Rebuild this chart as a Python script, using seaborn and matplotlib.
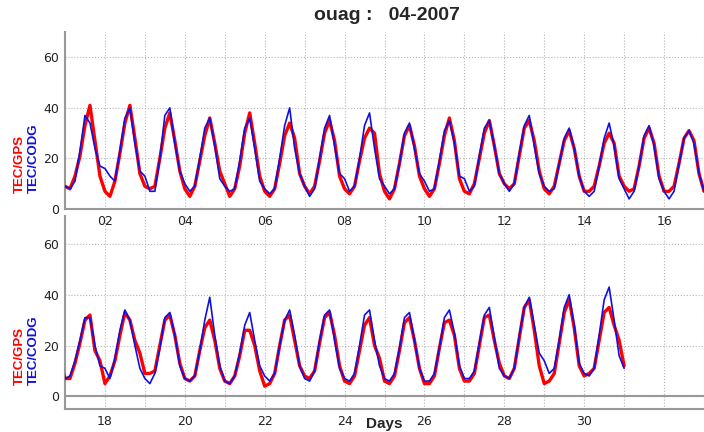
import numpy as np
import pandas as pd
import matplotlib
matplotlib.use("Agg")
import matplotlib.pyplot as plt
import seaborn as sns

# Sample hours within each day (3-hourly) and days of April 2007
hours = [0, 3, 6, 9, 12, 15, 18, 21]
days = list(range(1, 31))

# TEC from GPS receiver (red), one row of 3-hourly values per day
gps_tec = [
    9, 8, 13, 21, 33, 41, 27, 13,     # 01
    7, 5, 11, 22, 34, 41, 28, 14,     # 02
    9, 8, 9, 20, 32, 38, 27, 15,      # 03
    8, 5, 9, 19, 29, 36, 26, 15,      # 04
    10, 5, 8, 17, 30, 38, 26, 13,     # 05
    7, 5, 8, 18, 29, 34, 28, 14,      # 06
    9, 6, 9, 19, 30, 35, 27, 13,      # 07
    8, 6, 9, 19, 28, 32, 30, 14,      # 08
    7, 4, 8, 18, 29, 33, 25, 13,      # 09
    8, 5, 8, 18, 29, 36, 27, 12,      # 10
    7, 6, 10, 20, 30, 35, 25, 14,     # 11
    10, 8, 10, 21, 32, 35, 27, 15,    # 12
    8, 6, 9, 18, 27, 31, 24, 13,      # 13
    7, 7, 9, 17, 26, 30, 26, 13,      # 14
    9, 7, 8, 17, 28, 32, 26, 13,      # 15
    7, 7, 9, 18, 28, 31, 27, 14,      # 16
    7, 7, 13, 21, 30, 32, 18, 14,     # 17
    5, 8, 14, 24, 33, 30, 22, 17,     # 18
    9, 9, 10, 20, 30, 32, 24, 13,     # 19
    7, 6, 8, 18, 27, 30, 22, 11,      # 20
    6, 5, 8, 16, 26, 26, 20, 10,      # 21
    4, 5, 9, 20, 30, 32, 22, 12,      # 22
    8, 7, 10, 21, 31, 33, 24, 12,     # 23
    6, 5, 8, 18, 28, 31, 20, 15,      # 24
    6, 5, 8, 18, 29, 31, 22, 11,      # 25
    5, 5, 8, 19, 29, 30, 24, 11,      # 26
    6, 6, 9, 20, 31, 32, 22, 13,      # 27
    8, 7, 11, 23, 35, 38, 26, 12,     # 28
    5, 6, 9, 21, 33, 38, 27, 12,      # 29
    8, 9, 11, 22, 33, 35, 28, 22,     # 30
    12,                               # 31 00h
]

# TEC from CODE global maps (blue)
codg_tec = [
    9, 8, 11, 23, 37, 34, 24, 17,     # 01
    16, 13, 11, 23, 36, 40, 26, 15,   # 02
    13, 7, 7, 20, 37, 40, 26, 15,     # 03
    10, 7, 9, 20, 32, 36, 25, 12,     # 04
    9, 7, 8, 19, 32, 36, 24, 11,      # 05
    8, 6, 8, 20, 33, 40, 24, 14,      # 06
    9, 5, 8, 20, 32, 37, 25, 14,      # 07
    12, 7, 9, 20, 33, 38, 24, 12,     # 08
    9, 6, 8, 18, 30, 34, 24, 14,      # 09
    11, 7, 8, 19, 31, 35, 26, 13,     # 10
    12, 7, 9, 21, 32, 35, 25, 14,     # 11
    10, 7, 10, 22, 33, 37, 25, 14,    # 12
    9, 7, 8, 18, 28, 32, 24, 13,      # 13
    7, 5, 7, 17, 28, 34, 25, 12,      # 14
    8, 4, 7, 17, 29, 33, 25, 12,      # 15
    7, 4, 7, 18, 28, 31, 26, 14,      # 16
    7, 8, 14, 22, 31, 31, 20, 12,     # 17
    11, 7, 15, 26, 34, 30, 20, 11,    # 18
    7, 5, 9, 19, 31, 33, 24, 12,      # 19
    7, 6, 8, 18, 30, 39, 24, 12,      # 20
    6, 5, 8, 17, 28, 33, 22, 12,      # 21
    8, 6, 9, 20, 30, 34, 24, 12,      # 22
    7, 6, 10, 22, 32, 34, 22, 11,     # 23
    7, 6, 9, 20, 32, 34, 22, 12,      # 24
    7, 6, 9, 19, 31, 33, 22, 11,      # 25
    6, 6, 9, 19, 31, 34, 25, 12,      # 26
    7, 7, 10, 21, 32, 35, 23, 11,     # 27
    8, 7, 11, 24, 35, 39, 28, 17,     # 28
    14, 9, 11, 22, 35, 40, 28, 13,    # 29
    9, 8, 11, 24, 38, 43, 30, 16,     # 30
    11,                               # 31 00h
]

# time axis in days
t = [d + h / 24 for d in days for h in hours] + [31.0]
df = pd.DataFrame({"day": t * 2,
                   "tec": gps_tec + codg_tec,
                   "source": ["GPS"] * len(t) + ["CODG"] * len(t)})

sns.set_style("white")
plt.rcParams["font.family"] = ["Liberation Sans", "DejaVu Sans"]

fig = plt.figure(figsize=(7.04, 4.32), dpi=100)
ax1 = fig.add_axes([65 / 704, 1 - 209 / 432, 1 - 65 / 704, 177 / 432])
ax2 = fig.add_axes([65 / 704, 1 - 409 / 432, 1 - 65 / 704, 193 / 432])
ax2.patch.set_alpha(0)

panels = [(ax1, 1, 17, (0, 70), 193), (ax2, 17, 33, (-5, 71), 385)]
for ax, x0, x1, ylim, lab_y in panels:
    sns.lineplot(data=df[df.source == "GPS"], x="day", y="tec", color="#ff0000",
                 lw=2.4, ax=ax, zorder=3)
    sns.lineplot(data=df[df.source == "CODG"], x="day", y="tec", color="#1010e0",
                 lw=1.2, ax=ax, zorder=4)
    for ln in ax.lines:
        ln.set_solid_joinstyle("round")
    ax.set_xlim(x0, x0 + 639 / 40.4)
    ax.set_ylim(*ylim)
    ticks = list(range(x0, x1 + 1))
    ax.set_xticks(ticks)
    ax.set_xticklabels(["%02d" % d if d % 2 == 0 and d <= 30 else "" for d in ticks])
    ax.set_yticks([0, 20, 40, 60])
    ax.grid(True, ls=":", color="#b5b5b5", lw=0.8)
    ax.tick_params(direction="out", length=3, width=0.8, color="#888888",
                   labelsize=9, labelcolor="#222222", pad=1.5)
    for lab in ax.get_xticklabels() + ax.get_yticklabels():
        lab.set_family("DejaVu Sans")
    for s in ["top", "right"]:
        ax.spines[s].set_visible(False)
    ax.spines["left"].set_color("#999999")
    ax.spines["left"].set_linewidth(1.5)
    ax.spines["bottom"].set_color("#999999")
    ax.spines["bottom"].set_linewidth(1.5)
    ax.set_xlabel("")
    ax.set_ylabel("")
    fig.text(20 / 704, 1 - lab_y / 432, "TEC/GPS", color="#ff0000", rotation=90,
             ha="center", va="bottom", fontsize=9.5, fontweight="bold")
    fig.text(34 / 704, 1 - lab_y / 432, "TEC/CODG", color="#1010e0", rotation=90,
             ha="center", va="bottom", fontsize=9.5, fontweight="bold")

ax2.axhline(0, color="#999999", lw=1.5, zorder=2)

fig.text(387 / 704, 1 - 15 / 432, "ouag :   04-2007", ha="center", va="center",
         fontsize=14, fontweight="bold")
fig.text(384 / 704, 1 - 424 / 432, "Days", ha="center", va="center",
         fontsize=11, fontweight="bold",
         family=["Liberation Sans Narrow", "Liberation Sans"])

fig.savefig("out.png", dpi=100)
